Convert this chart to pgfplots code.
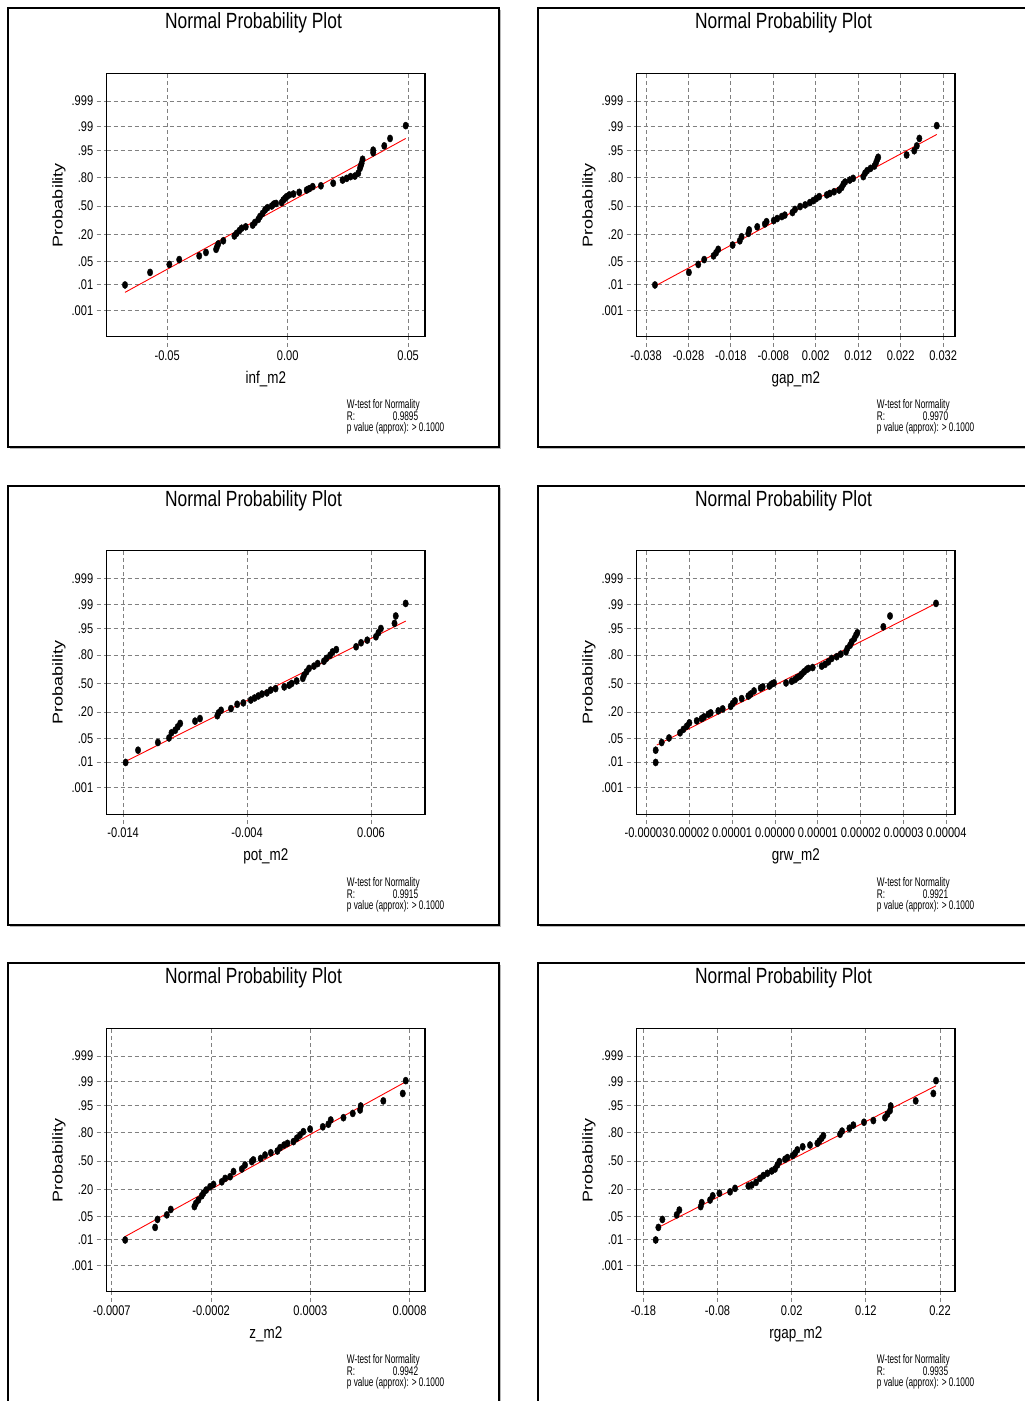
\documentclass[border=0pt]{standalone}
\usepackage{pgfplots}
\pgfplotsset{compat=1.18}
\usepackage{fontspec}
\setmainfont{Liberation Sans}[FakeStretch=0.79]
\newfontfamily\plainsans{Liberation Sans}
\newfontfamily\narrowsans{Liberation Sans}[FakeStretch=0.66]

\pgfplotsset{npp/.style={
  scale only axis, width=318.3pt, height=263.4pt,
  ymin=-4.586, ymax=4.656,
  ytick={-3.66,-2.76,-1.94,-1,0,1,1.94,2.78,3.68},
  yticklabels={.001,.01,.05,.20,.50,.80,.95,.99,.999},
  scaled x ticks=false, scaled y ticks=false,
  xtick pos=lower, ytick pos=left,
  tick align=outside, major tick length=10pt,
  grid=major,
  grid style={gray, dash pattern=on 4pt off 3pt, line width=0.85pt},
  tick style={gray, dash pattern=on 4pt off 3pt, line width=0.85pt},
  axis line style={black, line width=1.2pt},
  tick label style={font=\fontsize{14}{14}\selectfont},
  xlabel style={font=\fontsize{17}{17}\selectfont, at={(axis description cs:0.5,-0.1758)}, anchor=base},
  ylabel style={font=\plainsans\fontsize{18}{18}\selectfont, at={(axis description cs:-0.1499,0.5)}, anchor=center},
  ylabel={\scalebox{1}[0.79]{Probability}},
  anchor=south west,
}}
\pgfplotsset{dots/.style={only marks, mark=*, mark size=3.6pt, mark options={xscale=0.75, fill=black, draw=black}},
  fitline/.style={red, line width=0.9pt, no marks}}

\newcommand{\panelframe}[3]{%
  \draw[gray!55, line width=1.2pt] (#1+492.5,#2+1.5) -- (#1+492.5,#2+440.5) -- (#1+1.5,#2+440.5);
  \draw[black, line width=1.2pt] (#1,#2) rectangle (#1+491,#2+439);
  \node[anchor=base, font=\fontsize{22}{22}\selectfont] at (#1+245.5,#2+20.3) {Normal Probability Plot};
  \node[anchor=base west, inner sep=0pt, font=\narrowsans\fontsize{12.5}{12.5}\selectfont] at (#1+338.7,#2+400.7) {W-test for Normality};
  \node[anchor=base west, inner sep=0pt, font=\narrowsans\fontsize{12.5}{12.5}\selectfont] at (#1+338.7,#2+412.3) {R:};
  \node[anchor=base east, inner sep=0pt, font=\narrowsans\fontsize{12.5}{12.5}\selectfont] at (#1+410.3,#2+412.3) {#3};
  \node[anchor=base west, inner sep=0pt, font=\narrowsans\fontsize{12.5}{12.5}\selectfont] at (#1+338.7,#2+423.2) {p value (approx): > 0.1000};
}

\begin{document}
\begin{tikzpicture}
\begin{scope}[x=1pt,y=-1pt]
\useasboundingbox (0,0) rectangle (1025,1401);
\clip (0,0) rectangle (1025,1401);
\fill[white] (0,0) rectangle (1025,1401);
\panelframe{8}{8}{0.9895}
\panelframe{538}{8}{0.9970}
\panelframe{8}{486}{0.9915}
\panelframe{538}{486}{0.9921}
\panelframe{8}{963}{0.9942}
\panelframe{538}{963}{0.9935}
\end{scope}

% ---------- Panel 1: inf_m2
\begin{axis}[npp, at={(106.7pt,-336.7pt)},
  xmin=-0.0751, xmax=0.057,
  xtick={-0.05,0,0.05}, xticklabels={-0.05,0.00,0.05},
  xlabel={inf\_m2}]
\addplot[dots] table {
-0.0675 -2.77
-0.0571 -2.33
-0.0491 -2.05
-0.0450 -1.88
-0.0367 -1.75
-0.0339 -1.63
-0.0297 -1.52
-0.0293 -1.43
-0.0288 -1.33
-0.0267 -1.22
-0.0221 -1.05
-0.0212 -0.96
-0.0200 -0.86
-0.0191 -0.78
-0.0174 -0.73
-0.0145 -0.67
-0.0136 -0.58
-0.0122 -0.47
-0.0115 -0.37
-0.0104 -0.26
-0.0094 -0.14
-0.0084 -0.06
-0.0066 0.00
-0.0057 0.07
-0.0048 0.09
-0.0025 0.12
-0.0018 0.21
-0.0011 0.27
-0.0004 0.33
0.0007 0.39
0.0024 0.42
0.0048 0.48
0.0079 0.56
0.0090 0.61
0.0104 0.68
0.0138 0.71
0.0189 0.80
0.0228 0.91
0.0245 0.97
0.0261 1.03
0.0279 1.05
0.0293 1.15
0.0300 1.32
0.0304 1.42
0.0307 1.50
0.0311 1.64
0.0355 1.87
0.0355 1.96
0.0401 2.11
0.0425 2.37
0.0490 2.82
};
\addplot[fitline] coordinates {(-0.0675,-3.03) (0.0490,2.37)};
\end{axis}

% ---------- Panel 2: gap_m2
\begin{axis}[npp, at={(636.7pt,-336.7pt)},
  xmin=-0.0402, xmax=0.0348,
  xtick={-0.038,-0.028,-0.018,-0.008,0.002,0.012,0.022,0.032},
  xticklabels={-0.038,-0.028,-0.018,-0.008,0.002,0.012,0.022,0.032},
  xlabel={gap\_m2}]
\addplot[dots] table {
-0.0359 -2.77
-0.0279 -2.33
-0.0257 -2.05
-0.0243 -1.88
-0.0221 -1.75
-0.0215 -1.64
-0.0210 -1.52
-0.0176 -1.37
-0.0159 -1.22
-0.0155 -1.08
-0.0139 -0.96
-0.0137 -0.84
-0.0118 -0.73
-0.0100 -0.63
-0.0096 -0.55
-0.0079 -0.51
-0.0071 -0.44
-0.0060 -0.37
-0.0053 -0.32
-0.0035 -0.23
-0.0029 -0.12
-0.0017 -0.02
-0.0005 0.04
0.0006 0.12
0.0014 0.19
0.0021 0.26
0.0028 0.33
0.0046 0.39
0.0053 0.44
0.0063 0.50
0.0075 0.56
0.0081 0.65
0.0085 0.77
0.0089 0.84
0.0100 0.91
0.0108 0.97
0.0132 1.03
0.0136 1.15
0.0141 1.24
0.0149 1.32
0.0158 1.40
0.0162 1.52
0.0165 1.64
0.0167 1.71
0.0234 1.79
0.0252 1.94
0.0258 2.11
0.0264 2.37
0.0305 2.82
};
\addplot[fitline] coordinates {(-0.0359,-2.81) (0.0305,2.51)};
\end{axis}

% ---------- Panel 3: pot_m2
\begin{axis}[npp, at={(106.7pt,-814.2pt)},
  xmin=-0.01533, xmax=0.01036,
  xtick={-0.014,-0.004,0.006}, xticklabels={-0.014,-0.004,0.006},
  xlabel={pot\_m2}]
\addplot[dots] table {
-0.0138 -2.77
-0.0128 -2.34
-0.0112 -2.07
-0.0103 -1.91
-0.0101 -1.73
-0.0098 -1.64
-0.0096 -1.52
-0.0094 -1.40
-0.0082 -1.32
-0.0078 -1.23
-0.0064 -1.13
-0.0063 -1.03
-0.0061 -0.94
-0.0053 -0.88
-0.0048 -0.73
-0.0043 -0.68
-0.0037 -0.58
-0.0034 -0.51
-0.0031 -0.44
-0.0028 -0.37
-0.0024 -0.33
-0.0021 -0.23
-0.0017 -0.18
-0.0010 -0.12
-0.0006 -0.06
-0.0004 0.00
0.0000 0.09
0.0005 0.18
0.0006 0.29
0.0008 0.41
0.0010 0.53
0.0014 0.61
0.0017 0.70
0.0022 0.78
0.0024 0.88
0.0027 0.99
0.0029 1.11
0.0032 1.19
0.0048 1.29
0.0052 1.43
0.0057 1.52
0.0064 1.64
0.0066 1.78
0.0068 1.93
0.0079 2.11
0.0080 2.37
0.0088 2.81
};
\addplot[fitline] coordinates {(-0.0138,-2.73) (0.0088,2.19)};
\end{axis}

% ---------- Panel 4: grw_m2
\begin{axis}[npp, at={(636.7pt,-814.2pt)},
  xmin=-3.227e-5, xmax=4.199e-5,
  xtick={-3e-5,-2e-5,-1e-5,0,1e-5,2e-5,3e-5,4e-5},
  xticklabels={-0.00003,0.00002,0.00001,0.00000,0.00001,0.00002,0.00003,0.00004},
  xlabel={grw\_m2}]
\addplot[dots] table {
-2.784e-5 -2.77
-2.784e-5 -2.34
-2.644e-5 -2.07
-2.473e-5 -1.91
-2.216e-5 -1.73
-2.138e-5 -1.61
-2.060e-5 -1.50
-1.998e-5 -1.38
-1.827e-5 -1.31
-1.711e-5 -1.23
-1.656e-5 -1.17
-1.555e-5 -1.08
-1.500e-5 -1.03
-1.322e-5 -0.96
-1.221e-5 -0.89
-1.034e-5 -0.80
-0.988e-5 -0.70
-0.933e-5 -0.61
-0.778e-5 -0.53
-0.622e-5 -0.44
-0.568e-5 -0.37
-0.490e-5 -0.26
-0.334e-5 -0.16
-0.288e-5 -0.12
-0.132e-5 -0.09
-0.078e-5 -0.02
-0.023e-5 0.02
0.257e-5 0.02
0.389e-5 0.08
0.467e-5 0.14
0.521e-5 0.21
0.583e-5 0.26
0.622e-5 0.33
0.677e-5 0.41
0.739e-5 0.49
0.778e-5 0.53
0.879e-5 0.56
1.089e-5 0.61
1.166e-5 0.67
1.244e-5 0.76
1.322e-5 0.88
1.439e-5 0.94
1.532e-5 1.03
1.656e-5 1.11
1.687e-5 1.23
1.750e-5 1.34
1.788e-5 1.46
1.851e-5 1.58
1.890e-5 1.70
1.921e-5 1.78
2.527e-5 1.99
2.683e-5 2.37
3.756e-5 2.81
};
\addplot[fitline] coordinates {(-2.760e-5,-2.16) (3.756e-5,2.81)};
\end{axis}

% ---------- Panel 5: z_m2
\begin{axis}[npp, at={(106.7pt,-1291.7pt)},
  xmin=-0.000726, xmax=0.000878,
  xtick={-0.0007,-0.0002,0.0003,0.0008}, xticklabels={-0.0007,-0.0002,0.0003,0.0008},
  xlabel={z\_m2}]
\addplot[dots] table {
-0.000633 -2.77
-0.000482 -2.33
-0.000470 -2.05
-0.000423 -1.89
-0.000403 -1.70
-0.000284 -1.60
-0.000277 -1.49
-0.000264 -1.37
-0.000247 -1.22
-0.000239 -1.13
-0.000225 -1.02
-0.000205 -0.90
-0.000188 -0.82
-0.000146 -0.73
-0.000129 -0.61
-0.000104 -0.55
-0.000087 -0.37
-0.000045 -0.28
-0.000029 -0.14
0.000005 -0.02
0.000013 0.04
0.000050 0.09
0.000072 0.21
0.000101 0.29
0.000134 0.35
0.000148 0.47
0.000168 0.56
0.000185 0.62
0.000215 0.68
0.000232 0.80
0.000248 0.91
0.000265 1.03
0.000299 1.12
0.000363 1.20
0.000391 1.29
0.000403 1.44
0.000467 1.52
0.000514 1.67
0.000551 1.79
0.000554 1.93
0.000668 2.11
0.000766 2.37
0.000781 2.82
};
\addplot[fitline] coordinates {(-0.000633,-2.65) (0.000781,2.78)};
\end{axis}

% ---------- Panel 6: rgap_m2
\begin{axis}[npp, at={(636.7pt,-1291.7pt)},
  xmin=-0.189, xmax=0.2402,
  xtick={-0.18,-0.08,0.02,0.12,0.22}, xticklabels={-0.18,-0.08,0.02,0.12,0.22},
  xlabel={rgap\_m2}]
\addplot[dots] table {
-0.1634 -2.77
-0.1598 -2.33
-0.1544 -2.05
-0.1351 -1.89
-0.1315 -1.72
-0.1027 -1.60
-0.1013 -1.46
-0.0901 -1.37
-0.0865 -1.22
-0.0775 -1.13
-0.0631 -1.08
-0.0564 -0.96
-0.0384 -0.88
-0.0339 -0.84
-0.0281 -0.75
-0.0227 -0.61
-0.0182 -0.51
-0.0128 -0.43
-0.0070 -0.35
-0.0025 -0.28
0.0007 -0.14
0.0034 -0.02
0.0110 0.06
0.0142 0.12
0.0213 0.19
0.0245 0.27
0.0276 0.39
0.0348 0.50
0.0447 0.56
0.0546 0.62
0.0573 0.70
0.0604 0.80
0.0627 0.89
0.0852 0.94
0.0879 1.05
0.0978 1.15
0.1031 1.26
0.1175 1.36
0.1301 1.42
0.1458 1.52
0.1490 1.64
0.1526 1.77
0.1535 1.93
0.1872 2.11
0.2110 2.37
0.2146 2.82
};
\addplot[fitline] coordinates {(-0.1598,-2.33) (0.2146,2.64)};
\end{axis}
\end{tikzpicture}
\end{document}
